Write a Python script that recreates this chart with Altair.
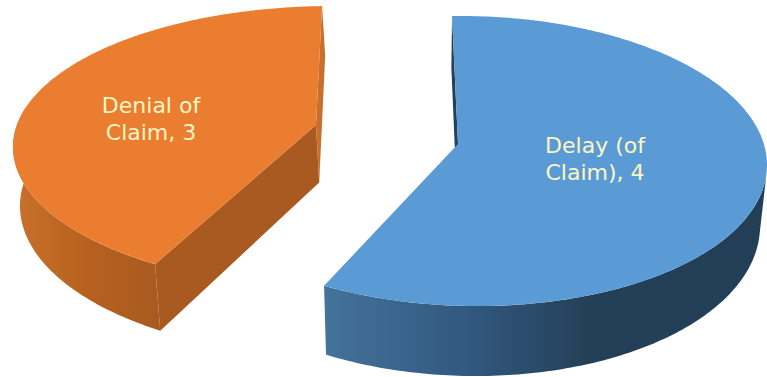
import altair as alt
import numpy as np
import pandas as pd

# Claim complaints by type
categories = ["Delay (of\nClaim)", "Denial of\nClaim"]
values = [4, 3]

W, H = 767, 377

# Tilted-disc layout for each slice: rim ellipses of top and bottom faces (cx, cy, a, b, lean),
# the tip of the slice on the top face, and where the slice begins (degrees clockwise from 12 o'clock)
layout = [
    dict(top=(469, 161, 298, 145, 4), bottom=(468, 222, 292, 154, 4), tip=(458, 144), start=-1.3,
         face="#5b9bd5", side_stops=[(0, "#44739c"), (0.35, "#30567c"), (0.6, "#243f58"), (1, "#233f57")],
         rim_span=(100, None), first_wall="#23405a", last_wall=None, label_at=(595, 146)),
    dict(top=(333, 147, 320, 141, 0), bottom=(336, 206, 316, 150, 0), tip=(316, 125), start=207.0,
         face="#eb7d31", side_stops=[(0, "#c9712b"), (0.55, "#b5601f"), (1, "#a85a20")],
         rim_span=(None, 278), first_wall="#a85a20", last_wall="#c7702b", label_at=(151, 106)),
]


def tip_unit(slice_def):
    cx, cy, a, b, lean = slice_def["top"]
    u = (slice_def["tip"][0] - cx) / a
    return u, (slice_def["tip"][1] - cy - lean * u) / b


def unit_rim(slice_def, angle):
    """Point on the unit rim reached from the slice tip in direction `angle`."""
    ox, oy = tip_unit(slice_def)
    dx, dy = np.sin(np.radians(angle)), -np.cos(np.radians(angle))
    bq = ox * dx + oy * dy
    s = -bq + np.sqrt(bq * bq - (ox * ox + oy * oy - 1))
    return ox + s * dx, oy + s * dy


def on_face(ellipse, u, v):
    cx, cy, a, b, lean = ellipse
    return cx + a * u, cy + b * v + lean * u


def polygon(points):
    return pd.DataFrame([dict(i=i, x=float(p[0]), y=float(p[1])) for i, p in enumerate(points)])


x_enc = alt.X("x:Q", scale=alt.Scale(domain=[0, W]), axis=None)
y_enc = alt.Y("y:Q", scale=alt.Scale(domain=[H, 0]), axis=None)


def shape(points, fill):
    return (
        alt.Chart(polygon(points))
        .mark_line(filled=True, fill=fill, strokeWidth=0)
        .encode(x=x_enc, y=y_enc, order=alt.Order("i:Q"))
    )


total = sum(values)
layers = []
top_layers = []
label_rows = []
for category, value, s in zip(categories, values, layout):
    a0 = s["start"]
    a1 = a0 + 360 * value / total
    tip_u, tip_v = tip_unit(s)

    # Outer wall, only the part that faces the viewer
    lo, hi = s["rim_span"]
    lo = a0 if lo is None else lo
    hi = a1 if hi is None else hi
    sweep = [unit_rim(s, t) for t in np.linspace(lo, hi, 120)]
    wall = [on_face(s["top"], u, v) for u, v in sweep] + [on_face(s["bottom"], u, v) for u, v in reversed(sweep)]
    gradient = alt.LinearGradient(
        gradient="linear",
        stops=[alt.GradientStop(offset=o, color=c) for o, c in s["side_stops"]],
        x1=0, x2=1, y1=0, y2=0,
    )
    layers.append(shape(wall, gradient))

    # Flat cut walls along the two radial edges
    u0, v0 = unit_rim(s, a0)
    u1, v1 = unit_rim(s, a1)
    tip_top = on_face(s["top"], tip_u, tip_v)
    tip_bottom = on_face(s["bottom"], tip_u, tip_v)
    layers.append(shape([tip_top, on_face(s["top"], u0, v0), on_face(s["bottom"], u0, v0), tip_bottom], s["first_wall"]))
    if s["last_wall"]:
        layers.append(shape([tip_top, on_face(s["top"], u1, v1), on_face(s["bottom"], u1, v1), tip_bottom], s["last_wall"]))

    # Top face
    rim = [on_face(s["top"], *unit_rim(s, t)) for t in np.linspace(a0, a1, 240)]
    top_layers.append(shape([tip_top] + rim, s["face"]))

    label_rows.append(dict(label=f"{category}, {value}", x=s["label_at"][0], y=s["label_at"][1]))

labels = (
    alt.Chart(pd.DataFrame(label_rows))
    .mark_text(font="DejaVu Sans", fontSize=22, lineHeight=26.5, lineBreak="\n", color="#fdf6c3", align="center", baseline="middle")
    .encode(x=x_enc, y=y_enc, text="label:N")
)

chart = (
    alt.layer(*layers, *top_layers, labels)
    .properties(width=W, height=H, padding=0, autosize=alt.AutoSizeParams(type="none"), background="white")
    .configure_view(stroke=None)
)

chart.save("out.html", embed_options={"renderer": "svg", "actions": False})
